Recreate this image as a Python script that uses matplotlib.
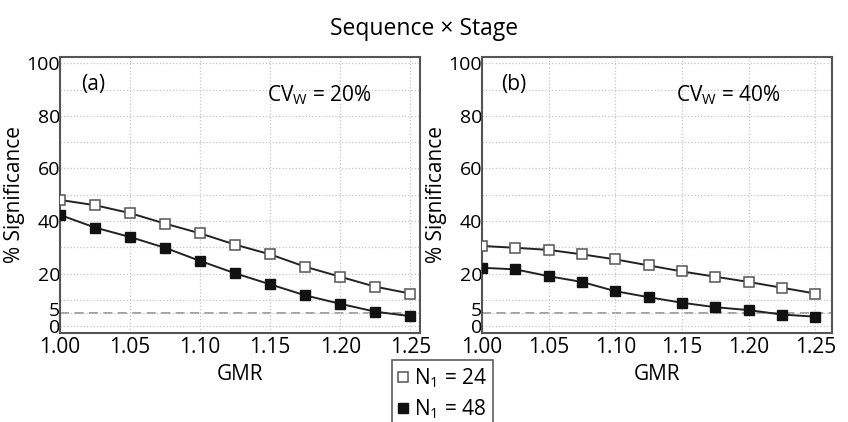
import numpy as np
import matplotlib
matplotlib.use("Agg")
import matplotlib.pyplot as plt
import matplotlib.transforms as mtransforms
from matplotlib.ticker import FixedLocator

plt.rcParams['font.family'] = ['Open Sans', 'DejaVu Sans']
plt.rcParams['mathtext.fontset'] = 'custom'
plt.rcParams['mathtext.rm'] = 'Open Sans'
plt.rcParams['mathtext.it'] = 'Open Sans'

# data
gmr = [1.000, 1.025, 1.050, 1.075, 1.100, 1.125, 1.150, 1.175, 1.200, 1.225, 1.250]
a_n24 = [48.0, 46.0, 43.0, 39.0, 35.3, 31.0, 27.3, 22.6, 18.8, 15.0, 12.4]
a_n48 = [42.3, 37.5, 33.9, 29.8, 24.8, 20.1, 15.9, 11.7, 8.5, 5.5, 3.8]
b_n24 = [30.5, 29.8, 29.0, 27.3, 25.4, 23.1, 20.8, 18.8, 16.8, 14.6, 12.4]
b_n48 = [22.2, 21.6, 19.0, 16.8, 13.3, 11.0, 8.9, 7.2, 6.1, 4.4, 3.6]

panels = ['(a)', '(b)']
cv_labels = ['CV$_\\mathrm{W}$ = 20%', 'CV$_\\mathrm{W}$ = 40%']
yticks = [0, 5, 20, 40, 60, 80, 100]
xticks = [1.00, 1.05, 1.10, 1.15, 1.20, 1.25]

fig = plt.figure(figsize=(8.48, 4.22), dpi=100)
ax1 = fig.add_axes([0.0708, 0.211, 0.4245, 0.654])
ax2 = fig.add_axes([0.5684, 0.211, 0.4127, 0.654])

series = [(a_n24, a_n48), (b_n24, b_n48)]
spine_col = '#555555'
fs = 15

for i, ax in enumerate([ax1, ax2]):
    s24, s48 = series[i]
    ax.axhline(5, color='#999999', lw=1.3, ls=(0, (5, 3)), zorder=1)
    h1, = ax.plot(gmr, s24, color='#222222', lw=1.4, marker='s', ms=7.5,
                  mfc='white', mec='#555555', mew=1.1, zorder=3)
    h2, = ax.plot(gmr, s48, color='#222222', lw=1.4, marker='s', ms=7.5,
                  mfc='#111111', mec='#111111', zorder=3)
    ax.set_xlim(1.0, 1.257 if i == 0 else 1.2625)
    ax.set_ylim(-2.6, 102.4)
    ax.set_yticks(yticks)
    ax.yaxis.set_minor_locator(FixedLocator([10, 30, 50, 70, 90]))
    ax.set_xticks(xticks)
    ax.set_xticklabels(['%.2f' % x for x in xticks])
    ax.grid(True, which='both', color='#c4c4c4', ls=':', lw=0.9)
    ax.tick_params(which='both', length=0, labelsize=fs)
    ax.tick_params(axis='x', pad=3)
    ax.tick_params(axis='y', pad=0, labelsize=14)
    # nudge the "5" label up a little so it clears the "0"
    lab5 = ax.get_yticklabels()[1]
    lab5.set_transform(lab5.get_transform() +
                       mtransforms.ScaledTranslation(0, 3 / 72, fig.dpi_scale_trans))
    for sp in ax.spines.values():
        sp.set_color(spine_col)
        sp.set_linewidth(1.5)
    ax.set_xlabel('GMR', fontsize=fs, labelpad=4)
    ax.set_ylabel('% Significance', fontsize=fs, labelpad=1)
    ax.text(1.0236, 92, panels[i], fontsize=fs, ha='center', va='center')
    ax.text(1.185, 88, cv_labels[i], fontsize=fs, ha='center', va='center')

fig.suptitle('Sequence \u00d7 Stage', fontsize=16.5, y=0.96)

leg = fig.legend([h1, h2], ['N$_1$ = 24', 'N$_1$ = 48'], loc='upper center',
                 bbox_to_anchor=(0.522, 0.146), fontsize=fs, frameon=True,
                 fancybox=False, edgecolor='#333333', handlelength=0.5,
                 handletextpad=0.25, borderpad=0.3, labelspacing=0.35,
                 borderaxespad=0)
for h in leg.legend_handles:
    h.set_linestyle('none')
    h.set_markersize(6.5)
leg.get_frame().set_linewidth(1.2)

fig.savefig('out.png', dpi=100)
